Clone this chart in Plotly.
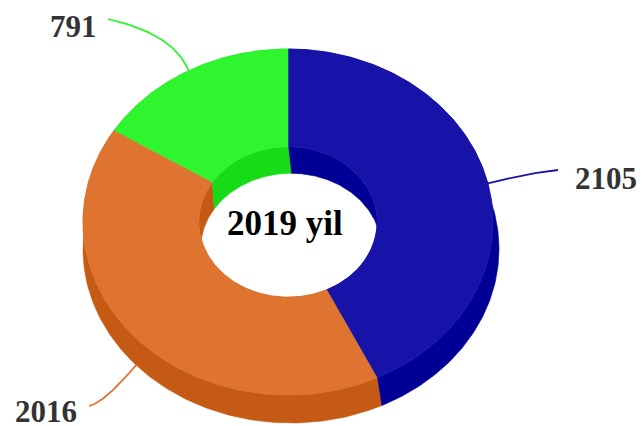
import numpy as np
import plotly.graph_objects as go

# Slice values (clockwise from 12 o'clock) and their label texts
values = [2105, 2016, 791]
value_labels = ["2105", "2016", "791"]
center_title = "2019 yil"

top_colors = ["#1713A8", "#DE7430", "#2EF52E"]
side_colors = ["#000096", "#C45A14", "#17DB17"]

W, H = 642, 426

# Projected ellipses of the 3D donut (pixel space)
TOP = dict(cx=288, cy=222, a=205, b=173)
BOT = dict(cx=291, cy=249, a=208, b=174)
INNER = 0.435  # inner size ratio


def arc(e, t0, t1, scale=1.0, n=160):
    t = np.radians(np.linspace(t0, t1, n))
    x = e["cx"] + e["a"] * scale * np.sin(t)
    y = e["cy"] - e["b"] * scale * np.cos(t)
    return x, y


def poly(xs1, ys1, xs2, ys2):
    x = np.concatenate([xs1, xs2[::-1], xs1[:1]])
    y = np.concatenate([ys1, ys2[::-1], ys1[:1]])
    return x, y


total = float(sum(values))
bounds = np.concatenate([[0], np.cumsum(values)]) / total * 360.0

fig = go.Figure()


def add_fill(x, y, color):
    fig.add_trace(go.Scatter(
        x=x, y=y, mode="lines", fill="toself", fillcolor=color,
        line=dict(color=color, width=0.6), hoverinfo="skip", showlegend=False))


# outer side walls
for i in range(len(values)):
    t0, t1 = bounds[i], bounds[i + 1]
    xt, yt = arc(TOP, t0, t1)
    xb, yb = arc(BOT, t0, t1)
    add_fill(*poly(xt, yt, xb, yb), side_colors[i])

# inner walls (visible through the hole)
for i in range(len(values)):
    t0, t1 = bounds[i], bounds[i + 1]
    xt, yt = arc(TOP, t0, t1, INNER)
    xb, yb = arc(BOT, t0, t1, INNER)
    add_fill(*poly(xt, yt, xb, yb), side_colors[i])

# top faces
for i in range(len(values)):
    t0, t1 = bounds[i], bounds[i + 1]
    xo, yo = arc(TOP, t0, t1)
    xi, yi = arc(TOP, t0, t1, INNER)
    add_fill(*poly(xo, yo, xi, yi), top_colors[i])

# data labels with curved connectors
label_centers = [(606, 178), (46, 411), (73, 26)]
connector_ends = [(558, 170), (89, 406), (108, 19)]
connector_ctrl = [(528, 173), (104, 403), (174, 34)]

for i in range(len(values)):
    mid = np.radians((bounds[i] + bounds[i + 1]) / 2)
    e = TOP if np.cos(mid) >= 0 else BOT
    ax = e["cx"] + e["a"] * np.sin(mid)
    ay = e["cy"] - e["b"] * np.cos(mid)
    (ex, ey), (qx, qy) = connector_ends[i], connector_ctrl[i]
    s = np.linspace(0, 1, 40)
    cxs = (1 - s) ** 2 * ex + 2 * (1 - s) * s * qx + s ** 2 * ax
    cys = (1 - s) ** 2 * ey + 2 * (1 - s) * s * qy + s ** 2 * ay
    fig.add_trace(go.Scatter(x=cxs, y=cys, mode="lines",
                             line=dict(color=top_colors[i], width=1.8),
                             hoverinfo="skip", showlegend=False))
    lx, ly = label_centers[i]
    fig.add_annotation(x=lx, y=ly, xref="x", yref="y", text=f"<b>{value_labels[i]}</b>",
                       showarrow=False, xanchor="center", yanchor="middle",
                       font=dict(family="Liberation Serif, Times New Roman, serif",
                                 size=31, color="#333333"))

fig.add_annotation(x=285, y=223, xref="x", yref="y", text=f"<b>{center_title}</b>",
                   showarrow=False, xanchor="center", yanchor="middle",
                   font=dict(family="Liberation Serif, Times New Roman, serif",
                             size=35, color="#000000"))

fig.update_layout(
    width=W, height=H, margin=dict(l=0, r=0, t=0, b=0),
    paper_bgcolor="white", plot_bgcolor="white",
    xaxis=dict(range=[0, W], visible=False, fixedrange=True),
    yaxis=dict(range=[H, 0], visible=False, fixedrange=True),
    showlegend=False,
)

fig.write_html("out.html")
